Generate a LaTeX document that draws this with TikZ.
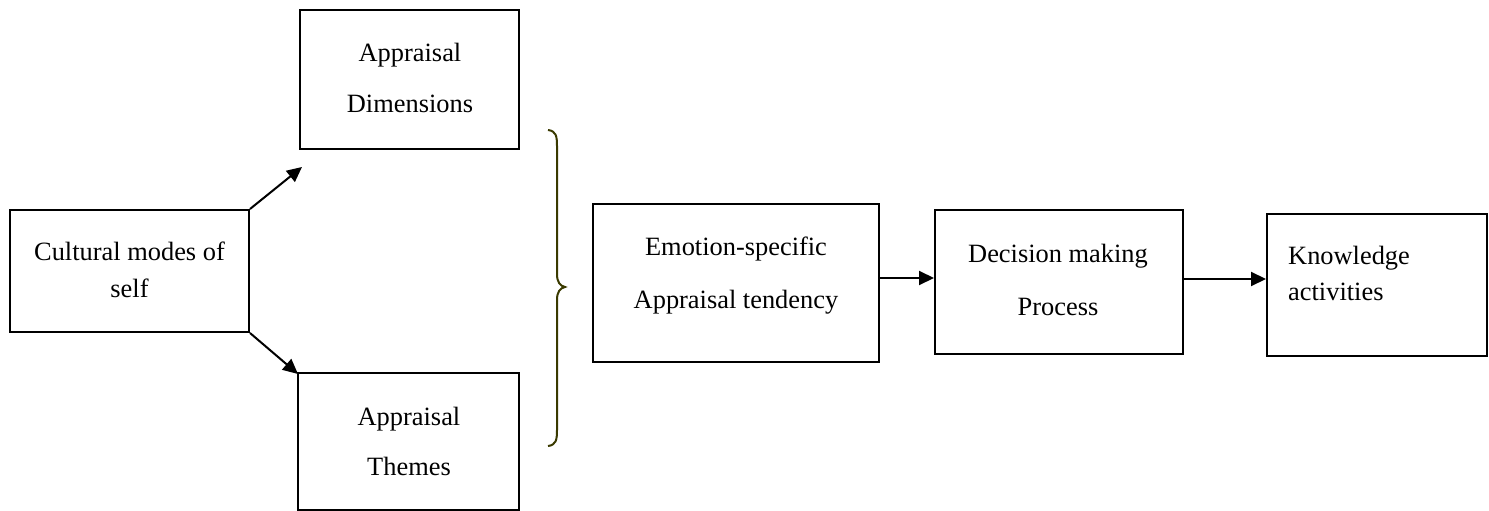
\documentclass[tikz,border=0pt]{standalone}
\usepackage{fontspec}
\setmainfont{Liberation Serif}
\usetikzlibrary{arrows.meta}
\definecolor{braceol}{HTML}{3A3A00}
\begin{document}
\begin{tikzpicture}[x=1pt,y=-1pt,
  boxnode/.style={draw,line width=2pt,inner sep=0pt},
  txt/.style={anchor=base,inner sep=0pt,font=\fontsize{26.4}{32}\selectfont},
  conn/.style={line width=2pt,-{Triangle[length=15pt,width=14pt]}}]
\useasboundingbox (0,0) rectangle (1489,511);
% boxes
\node[boxnode,minimum width=239pt,minimum height=122pt] (cult) at (129.5,271) {};
\node[boxnode,minimum width=219pt,minimum height=139pt] (dim) at (409.5,79.5) {};
\node[boxnode,minimum width=221pt,minimum height=137pt] (them) at (408.5,441.5) {};
\node[boxnode,minimum width=286pt,minimum height=158pt] (emo) at (736,283) {};
\node[boxnode,minimum width=248pt,minimum height=144pt] (dec) at (1059,282) {};
\node[boxnode,minimum width=220pt,minimum height=142pt] (know) at (1377,285) {};
% texts
\node[txt] (t1a) at (129.5,260) {Cultural modes of};
\node[txt] (t1b) at (129.5,297) {self};
\node[txt] (t2a) at (410,62) {Appraisal};
\node[txt] (t2b) at (410,113) {Dimensions};
\node[txt] (t3a) at (409,425) {Appraisal};
\node[txt] (t3b) at (409,475) {Themes};
\node[txt] (t4a) at (736,255) {Emotion-specific};
\node[txt] (t4b) at (736,308) {Appraisal tendency};
\node[txt] (t5a) at (1058,262) {Decision making};
\node[txt] (t5b) at (1058,315) {Process};
\node[txt,anchor=base west] (t6a) at (1288,264) {Knowledge};
\node[txt,anchor=base west] (t6b) at (1288,300) {activities};
% connectors
\coordinate (up) at (302,167);
\coordinate (down) at (298,374);
\draw[conn] (cult.north east) -- (up);
\draw[conn] (cult.south east) -- (down);
\draw[conn] (emo.east |- 0,278) -- (dec.west |- 0,278);
\draw[conn] (dec.east |- 0,279) -- (know.west |- 0,279);
% brace
\draw[braceol,line width=2pt] (548,130) .. controls (556,131) and (557,136) .. (557,146)
  -- (557,274) .. controls (557,282) and (560,286) .. (565,287)
  .. controls (560,288) and (557,292) .. (557,300)
  -- (557,430) .. controls (557,440) and (556,445) .. (548,446);
\end{tikzpicture}
\end{document}
